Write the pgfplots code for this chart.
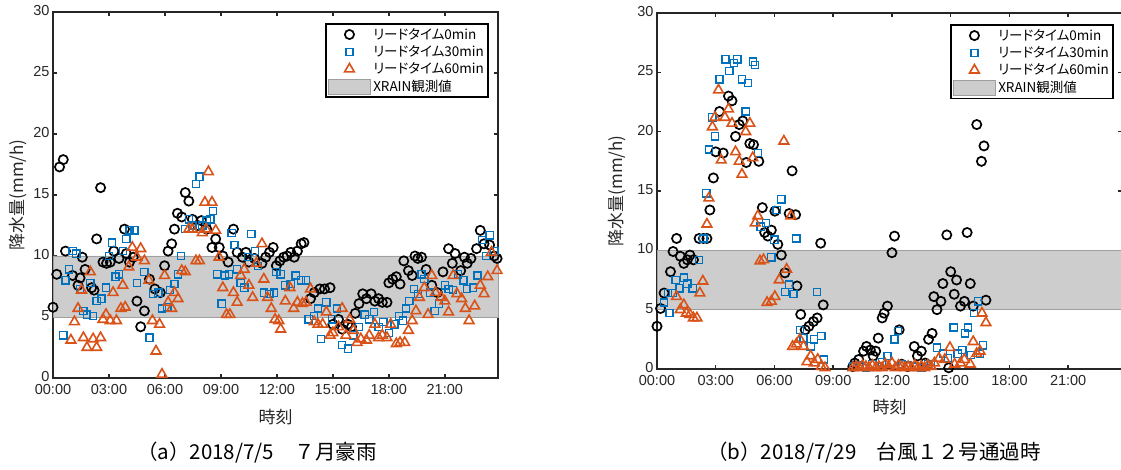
\documentclass[border=0pt]{standalone}
\usepackage{pgfplots}
\pgfplotsset{compat=1.18}
\usepackage{fontspec}
\setmainfont{Liberation Sans}
\newfontfamily\jp[RawFeature=+palt]{Noto Sans CJK JP}
\newfontfamily\jpc{Noto Sans CJK JP}
\definecolor{mblue}{RGB}{0,114,189}
\definecolor{morange}{RGB}{217,83,25}
\definecolor{axc}{RGB}{38,38,38}
\definecolor{bandc}{RGB}{205,205,205}
\pgfplotsset{
 mylegimg/.style={legend image code/.code={\draw[mark repeat=2,mark phase=2,##1] plot coordinates {(0pt,0pt)(18pt,0pt)(36pt,0pt)};}},
 myax/.style={
  scale only axis,
  xmin=0, ymin=0, ymax=30,
  xtick={0,3,...,21},
  xticklabels={00:00,03:00,06:00,09:00,12:00,15:00,18:00,21:00},
  ytick={0,5,...,30},
  tick align=inside,
  major tick length=4pt,
  axis line style={line width=1.8pt, color=axc},
  every tick/.style={line width=1.5pt, color=axc},
  tick label style={font=\fontsize{14.5}{14.5}\selectfont, text=axc},
  xticklabel style={yshift=-5.5pt, inner ysep=1pt},
  yticklabel style={inner ysep=0pt, yshift=1.5pt},
  /pgf/number format/assume math mode=true,
  label style={font=\jpc\fontsize{17}{17}\selectfont, text=axc},
  xlabel={時刻}, ylabel={降水量(mm/h)},
  legend cell align=left,
  legend style={font=\jp\fontsize{13.5}{14}\selectfont, draw=black, line width=1.8pt,
    anchor=north east, inner sep=2pt, nodes={inner sep=2.4pt},
    /tikz/every even column/.append style={column sep=2pt}},
  clip=false,
 },
 mk0/.style={only marks, mark=o, mark size=4.6pt, line width=1.7pt, color=black, mylegimg},
 mk30/.style={only marks, mark=square, mark size=3.6pt, line width=1.3pt, color=mblue, mylegimg},
 mk60/.style={only marks, mark=triangle, mark size=5.6pt, line width=1.6pt, color=morange, mylegimg},
}
\begin{document}
\begin{tikzpicture}[x=1pt,y=1pt]
\useasboundingbox (0,0) rectangle (1121,470);
% ---------------- panel (a)
\begin{axis}[myax, at={(53pt,92pt)}, anchor=south west, width=445pt, height=366pt, xmax=23.85,
  ylabel style={at={(axis description cs:-0.079,0.5)}, anchor=center},
  xlabel style={at={(axis description cs:0.5,-0.106)}, anchor=center},
  legend style={at={(0.98,0.97)}}]
\addplot[fill=bandc, draw=gray!75, line width=0.8pt, forget plot] coordinates {(0,5) (23.85,5) (23.85,10) (0,10) (0,5)};
\addplot[mk0] coordinates {
(0,5.8)(0.2,8.5)(0.35,17.3)(0.55,17.9)(0.67,10.4)(1.05,8.4)(1.34,7.6)(1.45,8.2)(1.57,9.9)(1.72,8.9)(2.07,7.4)(2.2,7.2)(2.34,11.4)(2.55,15.6)(2.68,9.5)(2.87,9.4)(3.07,9.5)(3.26,10.4)(3.54,9.8)(3.83,12.2)(3.93,10.2)(4.1,9.5)(4.3,9.9)(4.5,6.3)(4.7,4.2)(4.9,5.5)(5.17,8.1)(5.46,7.3)(5.75,7.0)(5.98,9.2)(6.17,10.4)(6.36,11.0)(6.51,12.2)(6.67,13.5)(6.9,13.2)(7.09,15.2)(7.28,14.5)(7.47,13.0)(7.76,12.5)(7.95,12.9)(8.24,12.2)(8.52,10.7)(8.72,11.4)(8.91,10.7)(9.1,10.0)(9.39,9.5)(9.67,12.2)(9.87,10.3)(10.15,9.9)(10.34,10.3)(10.5,9.5)(10.8,9.8)(11.2,9.4)(11.4,9.9)(11.6,10.3)(11.8,10.7)(11.97,9.2)(12.16,9.6)(12.36,9.9)(12.55,10.0)(12.74,10.3)(12.93,9.9)(13.1,10.4)(13.3,11.0)(13.45,11.1)(13.8,6.5)(14.0,7.0)(14.3,7.3)(14.55,7.3)(14.85,7.4)(15.0,4.4)(15.3,4.8)(15.5,4.0)(15.8,4.4)(16.0,4.2)(16.2,5.3)(16.4,6.1)(16.6,6.9)(16.8,6.5)(17.05,6.9)(17.25,6.3)(17.45,6.5)(17.65,6.2)(17.9,6.2)(18.0,7.8)(18.2,8.1)(18.4,8.3)(18.6,7.7)(18.8,9.6)(19.05,8.8)(19.25,8.4)(19.4,10.0)(19.55,9.8)(19.75,9.9)(20.0,8.9)(20.3,7.6)(20.6,7.0)(20.9,8.7)(21.2,10.6)(21.4,9.4)(21.55,10.2)(21.85,8.8)(22.05,9.9)(22.2,9.4)(22.4,9.8)(22.7,10.6)(22.9,12.1)(23.1,11.0)(23.4,10.9)(23.65,10.0)(23.8,9.8)};
\addlegendentry{リードタイム0min}
\addplot[mk30] coordinates {
(0.55,3.5)(0.67,8.0)(0.86,8.9)(1.05,10.4)(1.25,10.2)(1.44,7.3)(1.63,5.5)(1.82,5.2)(2.0,7.8)(2.15,5.1)(2.34,6.3)(2.6,6.5)(2.84,7.4)(3.0,10.0)(3.16,11.1)(3.35,8.3)(3.54,8.5)(3.74,10.4)(3.93,11.4)(4.1,12.1)(4.37,12.1)(4.5,7.8)(4.9,8.7)(5.17,3.3)(5.36,6.9)(5.65,7.0)(5.84,5.7)(6.13,5.8)(6.28,7.2)(6.51,7.7)(6.7,8.5)(6.86,10.0)(7.09,12.2)(7.28,13.0)(7.47,12.5)(7.66,15.9)(7.85,16.5)(8.0,12.5)(8.24,12.9)(8.43,13.0)(8.58,13.7)(8.81,8.5)(9.04,6.1)(9.23,8.4)(9.43,8.5)(9.58,11.9)(9.73,10.9)(9.87,8.9)(10.06,7.8)(10.25,7.4)(10.44,9.9)(10.63,11.8)(10.82,10.4)(11.0,9.2)(11.3,7.0)(11.6,6.9)(11.84,7.0)(11.97,8.7)(12.2,8.5)(12.45,7.6)(12.74,7.7)(13.0,8.4)(13.3,8.0)(13.56,8.0)(13.7,4.8)(14.0,5.1)(14.2,5.7)(14.37,3.2)(14.65,6.2)(14.95,4.8)(15.23,5.7)(15.5,2.7)(15.8,2.4)(16.1,3.5)(16.4,4.2)(16.7,5.2)(16.95,4.8)(17.2,5.4)(17.45,4.2)(17.7,4.6)(18.0,3.7)(18.3,4.4)(18.55,5.1)(18.77,4.7)(18.93,5.7)(19.1,6.3)(19.35,7.3)(19.55,6.9)(19.75,8.5)(19.9,8.1)(20.2,7.0)(20.45,5.5)(20.7,6.1)(21.0,7.6)(21.2,7.3)(21.45,7.2)(21.7,8.5)(22.0,8.0)(22.2,7.3)(22.5,7.4)(22.75,8.4)(22.98,11.3)(23.2,10.0)(23.4,11.7)(23.65,10.4)};
\addlegendentry{リードタイム30min}
\addplot[mk60] coordinates {
(0.96,3.1)(1.15,4.6)(1.34,5.7)(1.53,7.2)(1.63,3.3)(1.82,2.5)(2.0,8.7)(2.15,3.2)(2.34,2.5)(2.55,3.3)(2.68,4.8)(2.84,5.2)(3.07,4.7)(3.22,7.0)(3.4,4.7)(3.64,5.7)(3.74,7.6)(3.87,5.8)(4.06,9.1)(4.25,10.7)(4.5,9.9)(4.7,10.6)(4.9,9.6)(5.14,8.0)(5.33,4.7)(5.52,2.2)(5.71,4.4)(5.84,0.3)(5.98,8.4)(6.17,6.2)(6.36,5.7)(6.51,7.0)(6.7,6.5)(6.9,8.8)(7.09,8.7)(7.28,12.2)(7.47,12.2)(7.66,9.6)(7.85,9.6)(8.0,11.9)(8.14,14.4)(8.2,12.2)(8.33,16.9)(8.52,14.4)(8.72,12.1)(8.9,9.9)(9.1,7.4)(9.3,5.2)(9.48,5.2)(9.67,7.0)(9.87,6.2)(10.06,8.4)(10.25,8.9)(10.5,7.6)(10.7,6.6)(10.9,9.4)(11.2,11.0)(11.3,8.1)(11.5,6.6)(11.7,5.7)(11.9,4.8)(12.1,4.7)(12.2,4.0)(12.45,6.3)(12.7,7.4)(12.9,5.7)(13.1,6.2)(13.37,6.1)(13.56,6.2)(13.8,7.3)(14.0,4.6)(14.2,4.4)(14.45,4.4)(14.65,5.4)(14.85,3.5)(15.0,3.7)(15.3,4.2)(15.5,5.7)(15.7,3.5)(15.9,4.8)(16.1,3.9)(16.3,2.9)(16.5,3.2)(16.8,3.1)(16.95,3.5)(17.25,4.4)(17.45,3.3)(17.65,3.5)(17.9,3.3)(18.1,4.4)(18.4,2.8)(18.6,2.9)(18.85,2.9)(19.05,3.9)(19.25,4.7)(19.45,5.5)(19.64,6.6)(19.9,7.4)(20.1,5.2)(20.3,8.4)(20.5,7.0)(20.8,6.6)(21.0,6.3)(21.2,5.4)(21.45,8.4)(21.65,6.9)(21.9,6.5)(22.1,5.7)(22.3,4.7)(22.6,5.9)(22.9,7.6)(23.1,6.9)(23.3,8.3)(23.5,10.3)(23.8,8.8)};
\addlegendentry{リードタイム60min}
\addlegendimage{legend image code/.code={\fill[bandc, draw=gray!75, line width=0.8pt] (-3pt,-7.5pt) rectangle (39pt,7.5pt);}}
\addlegendentry{XRAIN観測値}
\end{axis}
% ---------------- panel (b)
\begin{axis}[myax, at={(657pt,101pt)}, anchor=south west, width=465pt, height=356pt, xmax=23.75,
  ylabel style={at={(axis description cs:-0.086,0.5)}, anchor=center},
  xlabel style={at={(axis description cs:0.5,-0.106)}, anchor=center},
  legend style={at={(0.983,0.969)}}]
\addplot[fill=bandc, draw=gray!75, line width=0.8pt, forget plot] coordinates {(0,5) (23.75,5) (23.75,10) (0,10) (0,5)};
\addplot[mk0] coordinates {
(0,3.6)(0.18,5.1)(0.36,6.4)(0.69,8.2)(0.82,9.9)(1.0,11.0)(1.19,9.5)(1.37,8.9)(1.55,9.2)(1.68,9.6)(1.86,9.2)(2.15,11.0)(2.37,11.0)(2.55,11.0)(2.7,13.4)(2.88,16.1)(3.0,18.3)(3.19,21.7)(3.38,18.2)(3.65,23.0)(3.83,22.6)(4.01,19.6)(4.2,20.6)(4.38,20.9)(4.56,17.4)(4.74,19.0)(4.93,18.9)(5.2,17.5)(5.38,13.6)(5.5,11.5)(5.66,11.2)(5.84,11.7)(6.02,13.3)(6.17,10.5)(6.35,9.6)(6.53,8.1)(6.75,13.1)(6.9,16.7)(7.08,13.0)(7.15,7.0)(7.34,4.6)(7.57,3.3)(7.76,3.6)(7.99,4.0)(8.18,4.3)(8.36,10.6)(8.49,5.4)(10.0,0.2)(10.1,0.5)(10.3,0.8)(10.55,1.5)(10.7,1.9)(10.9,1.6)(11.04,1.1)(11.17,1.5)(11.3,2.6)(11.5,4.3)(11.6,4.7)(11.77,5.3)(12.0,9.8)(12.13,11.2)(12.37,3.3)(12.5,0.4)(12.8,0.2)(13.14,1.9)(13.3,1.1)(13.5,1.5)(13.7,0.5)(13.87,2.5)(14.05,3.0)(14.14,6.1)(14.3,5.0)(14.5,5.7)(14.6,7.2)(14.8,11.3)(14.9,0.1)(15.0,8.2)(15.18,6.3)(15.3,7.5)(15.5,5.3)(15.7,5.7)(15.84,11.5)(16.0,7.2)(16.15,5.3)(16.33,20.6)(16.57,17.5)(16.7,18.8)(16.8,5.8)};
\addlegendentry{リードタイム0min}
\addplot[mk30] coordinates {
(0.36,5.6)(0.55,6.4)(0.64,4.7)(0.82,6.4)(0.95,7.5)(1.15,6.8)(1.37,7.7)(1.55,7.2)(1.82,6.8)(2.15,9.2)(2.37,11.0)(2.52,14.8)(2.65,18.5)(2.83,21.2)(2.96,19.6)(3.19,24.4)(3.5,26.1)(3.69,25.1)(3.92,25.8)(4.1,26.1)(4.34,24.4)(4.53,21.7)(4.65,24.1)(4.89,25.9)(5.0,25.6)(5.15,18.2)(5.29,12.0)(5.57,12.3)(5.84,9.4)(5.99,10.9)(6.11,13.4)(6.35,14.3)(6.53,6.5)(6.75,7.1)(6.97,6.3)(7.12,11.0)(7.3,3.3)(7.48,2.6)(7.85,1.9)(8.03,2.5)(8.18,6.5)(8.39,2.8)(8.54,0.8)(10.0,0.2)(10.33,0.3)(10.67,0.1)(11.0,0.4)(11.33,0.2)(11.5,0.6)(11.77,1.1)(12.13,2.5)(12.3,3.2)(12.5,0.4)(12.83,0.3)(13.17,0.2)(13.5,0.1)(13.83,0.4)(14.0,0.3)(14.3,1.8)(14.6,1.3)(14.87,0.9)(15.15,3.5)(15.36,1.3)(15.6,1.6)(15.73,3.0)(15.88,3.5)(16.02,1.2)(16.2,4.7)(16.4,5.7)(16.5,1.3)(16.64,2.0)};
\addlegendentry{リードタイム30min}
\addplot[mk60] coordinates {
(1.0,6.1)(1.19,5.0)(1.37,5.4)(1.5,4.7)(1.68,4.6)(1.86,4.3)(2.04,4.3)(2.19,6.4)(2.34,7.4)(2.55,12.2)(2.65,14.4)(2.83,20.4)(2.96,21.2)(3.14,23.5)(3.28,17.6)(3.47,21.2)(3.65,21.9)(3.83,20.7)(4.01,18.3)(4.2,17.5)(4.34,16.4)(4.53,20.0)(4.74,20.7)(4.89,17.8)(5.02,12.3)(5.15,12.9)(5.26,9.1)(5.44,9.2)(5.62,5.6)(5.84,5.7)(6.02,6.1)(6.24,7.5)(6.48,19.2)(6.62,8.4)(6.84,12.9)(6.93,1.9)(7.12,2.1)(7.3,2.5)(7.48,1.9)(7.66,0.6)(7.85,1.1)(8.03,0.5)(8.21,0.8)(8.39,0.2)(8.58,0.1)(10.0,0.1)(10.17,0.2)(10.33,0.1)(10.5,0.3)(10.67,0.2)(10.83,0.1)(11.0,0.3)(11.17,0.1)(11.33,0.2)(11.5,0.1)(11.67,0.4)(11.83,0.2)(12.0,0.5)(12.17,0.1)(12.33,0.3)(12.5,0.2)(12.67,0.1)(12.83,0.2)(13.0,0.1)(13.17,0.3)(13.33,0.1)(13.5,0.2)(13.67,0.1)(13.83,0.3)(14.0,0.2)(14.17,0.5)(14.4,0.9)(14.7,0.8)(14.96,1.8)(15.2,0.4)(15.5,0.5)(15.7,0.8)(16.0,0.4)(16.15,2.3)(16.33,1.3)(16.5,1.5)(16.6,4.7)(16.8,3.9)};
\addlegendentry{リードタイム60min}
\addlegendimage{legend image code/.code={\fill[bandc, draw=gray!75, line width=0.8pt] (-3pt,-7.5pt) rectangle (39pt,7.5pt);}}
\addlegendentry{XRAIN観測値}
\end{axis}
% captions
\node[font=\jpc\fontsize{20.5}{20.5}\selectfont, anchor=center] at (257,17) {（a）2018/7/5　７月豪雨};
\node[font=\jpc\fontsize{20.5}{20.5}\selectfont, anchor=center] at (874,17) {（b）2018/7/29　台風１２号通過時};
\end{tikzpicture}
\end{document}
